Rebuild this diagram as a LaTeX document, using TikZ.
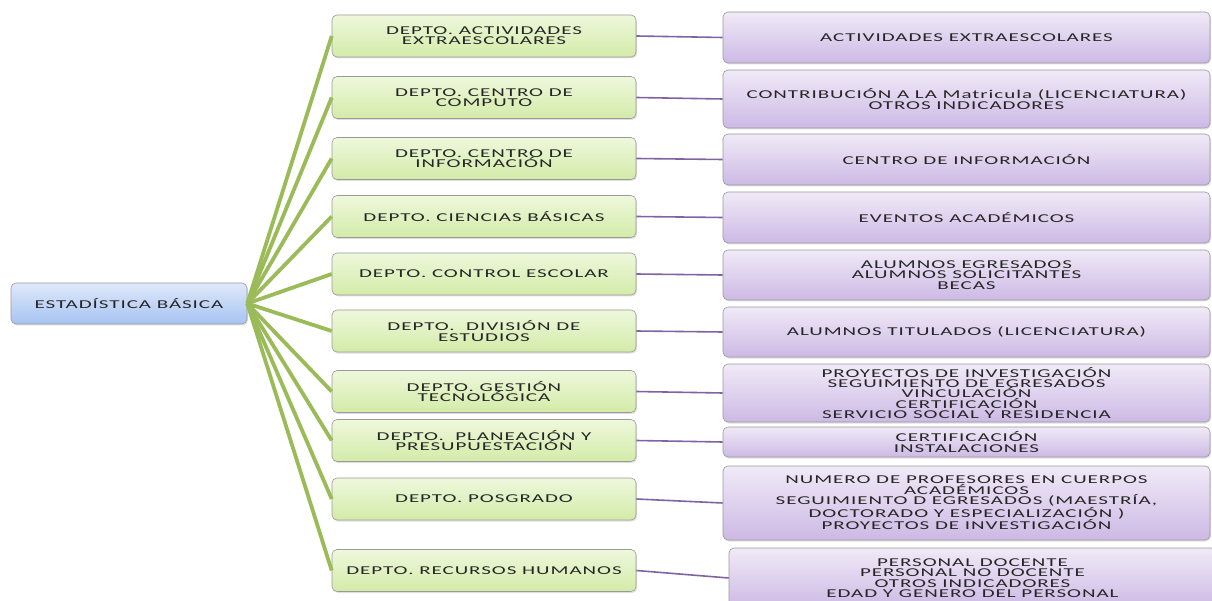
\documentclass[tikz,border=0pt]{standalone}
\usepackage{fontspec}
\setmainfont[FakeStretch=1.75,LetterSpace=8]{Carlito}
\usetikzlibrary{shadows}
\definecolor{grline}{HTML}{9BBB59}
\definecolor{puline}{HTML}{8064A2}
\definecolor{boxborder}{HTML}{9A9A9A}
\definecolor{txt}{HTML}{262626}
\definecolor{gtop}{HTML}{EEF8DC}
\definecolor{gbot}{HTML}{D3EBA8}
\definecolor{ptop}{HTML}{F0EAF7}
\definecolor{pbot}{HTML}{CDB9E5}
\definecolor{btop}{HTML}{DFE9FA}
\definecolor{bbot}{HTML}{A6C3F2}
\begin{document}
\begin{tikzpicture}[x=1pt,y=-1pt,
  box/.style={draw=boxborder, line width=0.6pt, rounded corners=5pt, align=center,
    inner sep=0pt, font=\fontsize{12}{10.3}\selectfont, text=txt,
    drop shadow={shadow xshift=1pt,shadow yshift=-1.5pt,opacity=0.25}},
  rootbox/.style={box, top color=btop, bottom color=bbot, minimum width=236pt, minimum height=41pt},
  dept/.style={box, top color=gtop, bottom color=gbot, minimum width=304pt, minimum height=42pt},
  ind/.style={box, top color=ptop, bottom color=pbot, minimum width=487pt},
  gline/.style={draw=grline, line width=3.8pt},
  pline/.style={draw=puline, line width=1.6pt}]
\path[use as bounding box, fill=white] (0,0) rectangle (1212,601);

\node[rootbox] (root) at (129,303.5) {ESTADÍSTICA BÁSICA};

\node[dept] (d1) at (484,36) {DEPTO. ACTIVIDADES\\EXTRAESCOLARES};
\node[dept] (d2) at (484,97.5) {DEPTO. CENTRO DE\\COMPUTO};
\node[dept] (d3) at (484,158.5) {DEPTO. CENTRO DE\\INFORMACIÓN};
\node[dept] (d4) at (484,216.5) {DEPTO. CIENCIAS BÁSICAS};
\node[dept] (d5) at (484,274) {DEPTO. CONTROL ESCOLAR};
\node[dept] (d6) at (484,331) {DEPTO.~ DIVISIÓN DE\\ESTUDIOS};
\node[dept] (d7) at (484,391.5) {DEPTO. GESTIÓN\\TECNOLÓGICA};
\node[dept] (d8) at (484,440.5) {DEPTO.~ PLANEACIÓN Y\\PRESUPUESTACIÓN};
\node[dept] (d9) at (484,499) {DEPTO. POSGRADO};
\node[dept] (d10) at (484,570.5) {DEPTO. RECURSOS HUMANOS};

\node[ind, minimum height=51pt] (i1) at (966.5,37.5) {ACTIVIDADES EXTRAESCOLARES};
\node[ind, minimum height=58pt] (i2) at (966.5,99) {CONTRIBUCIÓN A LA Matricula (LICENCIATURA)\\OTROS INDICADORES};
\node[ind, minimum height=51pt] (i3) at (966.5,159.5) {CENTRO DE INFORMACIÓN};
\node[ind, minimum height=51pt] (i4) at (966.5,217.5) {EVENTOS ACADÉMICOS};
\node[ind, minimum height=50pt] (i5) at (966.5,275) {ALUMNOS EGRESADOS\\ALUMNOS SOLICITANTES\\BECAS};
\node[ind, minimum height=50pt] (i6) at (966.5,332) {ALUMNOS TITULADOS (LICENCIATURA)};
\node[ind, minimum height=58pt] (i7) at (966.5,393) {PROYECTOS DE INVESTIGACIÓN\\SEGUIMIENTO DE EGRESADOS\\VINCULACIÓN\\CERTIFICACIÓN\\SERVICIO SOCIAL Y RESIDENCIA};
\node[ind, minimum height=30pt] (i8) at (966.5,442) {CERTIFICACIÓN\\INSTALACIONES};
\node[ind, minimum height=74pt] (i9) at (966.5,503) {NUMERO DE PROFESORES EN CUERPOS\\ACADÉMICOS\\SEGUIMIENTO D EGRESADOS (MAESTRÍA,\\DOCTORADO Y ESPECIALIZACIÓN )\\PROYECTOS DE INVESTIGACIÓN};
\node[ind, minimum height=60pt] (i10) at (972.5,578) {PERSONAL DOCENTE\\PERSONAL NO DOCENTE\\OTROS INDICADORES\\EDAD Y GENERO DEL PERSONAL};

\foreach \i in {1,...,10}{
  \draw[gline] (root.east) -- (d\i.west);
  \draw[pline] (d\i.east) -- (i\i.west);
}
\end{tikzpicture}
\end{document}
